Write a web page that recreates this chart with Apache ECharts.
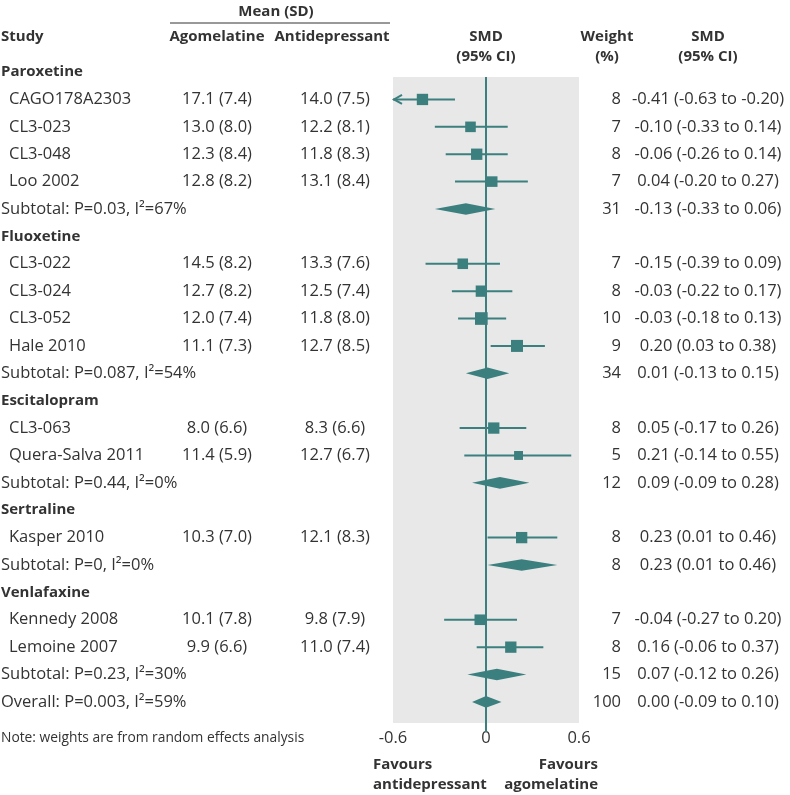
<!DOCTYPE html>
<html>
<head>
<meta charset="utf-8">
<script src="https://cdn.jsdelivr.net/npm/echarts@6/dist/echarts.min.js"></script>
<style>
  html, body { margin: 0; padding: 0; background: #fff; }
  #chart { width: 790px; height: 795px; }
</style>
</head>
<body>
<div id="chart"></div>
<script>
// ---- data ----
const groups = ['Paroxetine', 'Fluoxetine', 'Escitalopram', 'Sertraline', 'Venlafaxine'];
const studies = ['CAGO178A2303', 'CL3-023', 'CL3-048', 'Loo 2002', 'CL3-022', 'CL3-024', 'CL3-052',
  'Hale 2010', 'CL3-063', 'Quera-Salva 2011', 'Kasper 2010', 'Kennedy 2008', 'Lemoine 2007'];
const studyGroup = [0, 0, 0, 0, 1, 1, 1, 1, 2, 2, 3, 4, 4];
const agoMean = [17.1, 13.0, 12.3, 12.8, 14.5, 12.7, 12.0, 11.1, 8.0, 11.4, 10.3, 10.1, 9.9];
const agoSD = [7.4, 8.0, 8.4, 8.2, 8.2, 8.2, 7.4, 7.3, 6.6, 5.9, 7.0, 7.8, 6.6];
const adMean = [14.0, 12.2, 11.8, 13.1, 13.3, 12.5, 11.8, 12.7, 8.3, 12.7, 12.1, 9.8, 11.0];
const adSD = [7.5, 8.1, 8.3, 8.4, 7.6, 7.4, 8.0, 8.5, 6.6, 6.7, 8.3, 7.9, 7.4];
const smd = [-0.41, -0.10, -0.06, 0.04, -0.15, -0.03, -0.03, 0.20, 0.05, 0.21, 0.23, -0.04, 0.16];
const smdLow = [-0.63, -0.33, -0.26, -0.20, -0.39, -0.22, -0.18, 0.03, -0.17, -0.14, 0.01, -0.27, -0.06];
const smdHigh = [-0.20, 0.14, 0.14, 0.27, 0.09, 0.17, 0.13, 0.38, 0.26, 0.55, 0.46, 0.20, 0.37];
const weight = [8, 7, 8, 7, 7, 8, 10, 9, 8, 5, 8, 7, 8];

const subStats = ['P=0.03, I²=67%', 'P=0.087, I²=54%', 'P=0.44, I²=0%', 'P=0, I²=0%', 'P=0.23, I²=30%'];
const subSmd = [-0.13, 0.01, 0.09, 0.23, 0.07];
const subLow = [-0.33, -0.13, -0.09, 0.01, -0.12];
const subHigh = [0.06, 0.15, 0.28, 0.46, 0.26];
const subWeight = [31, 34, 12, 8, 15];

const overallStats = 'P=0.003, I²=59%';
const overallSmd = 0.00, overallLow = -0.09, overallHigh = 0.10, overallWeight = 100;

const xTicks = [-0.6, 0, 0.6];

// ---- layout / style ----
const teal = '#3b7f7e';
const ink = '#333';
const FONT = '"Open Sans", "Noto Sans", sans-serif';
const normal = '16.5px ' + FONT;
const bold = 'bold 15px ' + FONT;

// build row list
const rows = [];
groups.forEach((g, gi) => {
  rows.push({ type: 'group', gi });
  studies.forEach((s, i) => { if (studyGroup[i] === gi) rows.push({ type: 'study', i }); });
  rows.push({ type: 'sub', gi });
});
rows.push({ type: 'overall' });

const f2 = v => v.toFixed(2);
const ciText = (e, l, h) => f2(e) + ' (' + f2(l) + ' to ' + f2(h) + ')';

const studyPts = [], subPts = [];
rows.forEach((r, k) => {
  if (r.type === 'study') studyPts.push([smd[r.i], k, weight[r.i], smdLow[r.i], smdHigh[r.i]]);
  if (r.type === 'sub') subPts.push([subLow[r.gi], subSmd[r.gi], subHigh[r.gi], k]);
  if (r.type === 'overall') subPts.push([overallLow, overallSmd, overallHigh, k]);
});

function txt(x, y, text, font, align) {
  return { type: 'text', x, y, style: { text, font, fill: ink, align: align || 'left', verticalAlign: 'middle' } };
}

const chart = echarts.init(document.getElementById('chart'));
const X_MIN = -0.6, X_MAX = 0.6;

chart.setOption({
  animation: false,
  grid: { left: 393, top: 77, width: 186, height: 646, show: true, backgroundColor: '#e8e8e8', borderWidth: 0 },
  xAxis: {
    type: 'value', min: X_MIN, max: X_MAX, interval: 0.6,
    axisLine: { show: false }, axisTick: { show: false }, splitLine: { show: false },
    axisLabel: { fontSize: 16.5, fontFamily: FONT, color: ink, margin: 7,
      formatter: v => xTicks.includes(+v.toFixed(1)) ? String(+v.toFixed(1)) : '' }
  },
  yAxis: { type: 'value', inverse: true, min: 0.18, max: 23.77, show: false },
  graphic: [
    txt(276, 12, 'Mean (SD)', bold, 'center'),
    { type: 'line', shape: { x1: 170, y1: 23, x2: 390, y2: 23 }, style: { stroke: ink, lineWidth: 1 } },
    txt(1, 37, 'Study', bold),
    txt(217, 37, 'Agomelatine', bold, 'center'),
    txt(332, 37, 'Antidepressant', bold, 'center'),
    txt(486, 37, 'SMD', bold, 'center'),
    txt(486, 57, '(95% CI)', bold, 'center'),
    txt(607, 37, 'Weight', bold, 'center'),
    txt(607, 57, '(%)', bold, 'center'),
    txt(708, 37, 'SMD', bold, 'center'),
    txt(708, 57, '(95% CI)', bold, 'center'),
    txt(1, 738, 'Note: weights are from random effects analysis', '13.8px ' + FONT),
    txt(373, 765, 'Favours', bold),
    txt(373, 785, 'antidepressant', bold),
    txt(598, 765, 'Favours', bold, 'right'),
    txt(598, 785, 'agomelatine', bold, 'right')
  ],
  series: [
    {
      // line of no effect
      type: 'line', data: [[0, 0.18], [0, 24.1]], clip: false, symbol: 'none',
      lineStyle: { color: teal, width: 2 }, z: 2
    },
    {
      // confidence intervals
      type: 'custom', data: studyPts, z: 3,
      renderItem: (params, api) => {
        const row = api.value(1);
        const lo = api.value(3), hi = api.value(4);
        const a = api.coord([Math.max(lo, X_MIN), row]);
        const b = api.coord([Math.min(hi, X_MAX), row]);
        const children = [{ type: 'line', shape: { x1: a[0], y1: a[1], x2: b[0], y2: b[1] }, style: { stroke: teal, lineWidth: 2 } }];
        if (lo < X_MIN) {
          children.push({ type: 'polyline', shape: { points: [[a[0] + 9, a[1] - 4.5], [a[0] + 1, a[1]], [a[0] + 9, a[1] + 4.5]] },
            style: { stroke: teal, lineWidth: 2, fill: null } });
        }
        return { type: 'group', children };
      }
    },
    {
      // study estimates
      type: 'scatter', data: studyPts, symbol: 'rect', z: 4,
      symbolSize: v => 4 * Math.sqrt(v[2]),
      itemStyle: { color: teal, opacity: 1 }
    },
    {
      // pooled diamonds
      type: 'custom', data: subPts, z: 4,
      renderItem: (params, api) => {
        const row = api.value(3);
        const l = api.coord([api.value(0), row]);
        const m = api.coord([api.value(1), row]);
        const h = api.coord([api.value(2), row]);
        return { type: 'polygon', shape: { points: [[l[0], l[1]], [m[0], m[1] - 5.8], [h[0], h[1]], [m[0], m[1] + 5.8]] },
          style: { fill: teal } };
      }
    },
    {
      // table text
      type: 'custom', data: rows.map((r, k) => [0, k]), z: 5, silent: true,
      renderItem: (params, api) => {
        const k = api.value(1);
        const r = rows[k];
        const y = api.coord([0, k])[1];
        const c = [];
        if (r.type === 'group') {
          c.push(txt(1, y, groups[r.gi], bold));
        } else if (r.type === 'study') {
          const i = r.i;
          c.push(txt(9, y, studies[i], normal));
          c.push(txt(217, y, agoMean[i].toFixed(1) + ' (' + agoSD[i].toFixed(1) + ')', normal, 'center'));
          c.push(txt(335, y, adMean[i].toFixed(1) + ' (' + adSD[i].toFixed(1) + ')', normal, 'center'));
          c.push(txt(621, y, String(weight[i]), normal, 'right'));
          c.push(txt(708, y, ciText(smd[i], smdLow[i], smdHigh[i]), normal, 'center'));
        } else if (r.type === 'sub') {
          const g = r.gi;
          c.push(txt(1, y, 'Subtotal: ' + subStats[g], normal));
          c.push(txt(621, y, String(subWeight[g]), normal, 'right'));
          c.push(txt(708, y, ciText(subSmd[g], subLow[g], subHigh[g]), normal, 'center'));
        } else {
          c.push(txt(1, y, 'Overall: ' + overallStats, normal));
          c.push(txt(621, y, String(overallWeight), normal, 'right'));
          c.push(txt(708, y, ciText(overallSmd, overallLow, overallHigh), normal, 'center'));
        }
        return { type: 'group', children: c };
      }
    }
  ]
});
</script>
</body>
</html>
